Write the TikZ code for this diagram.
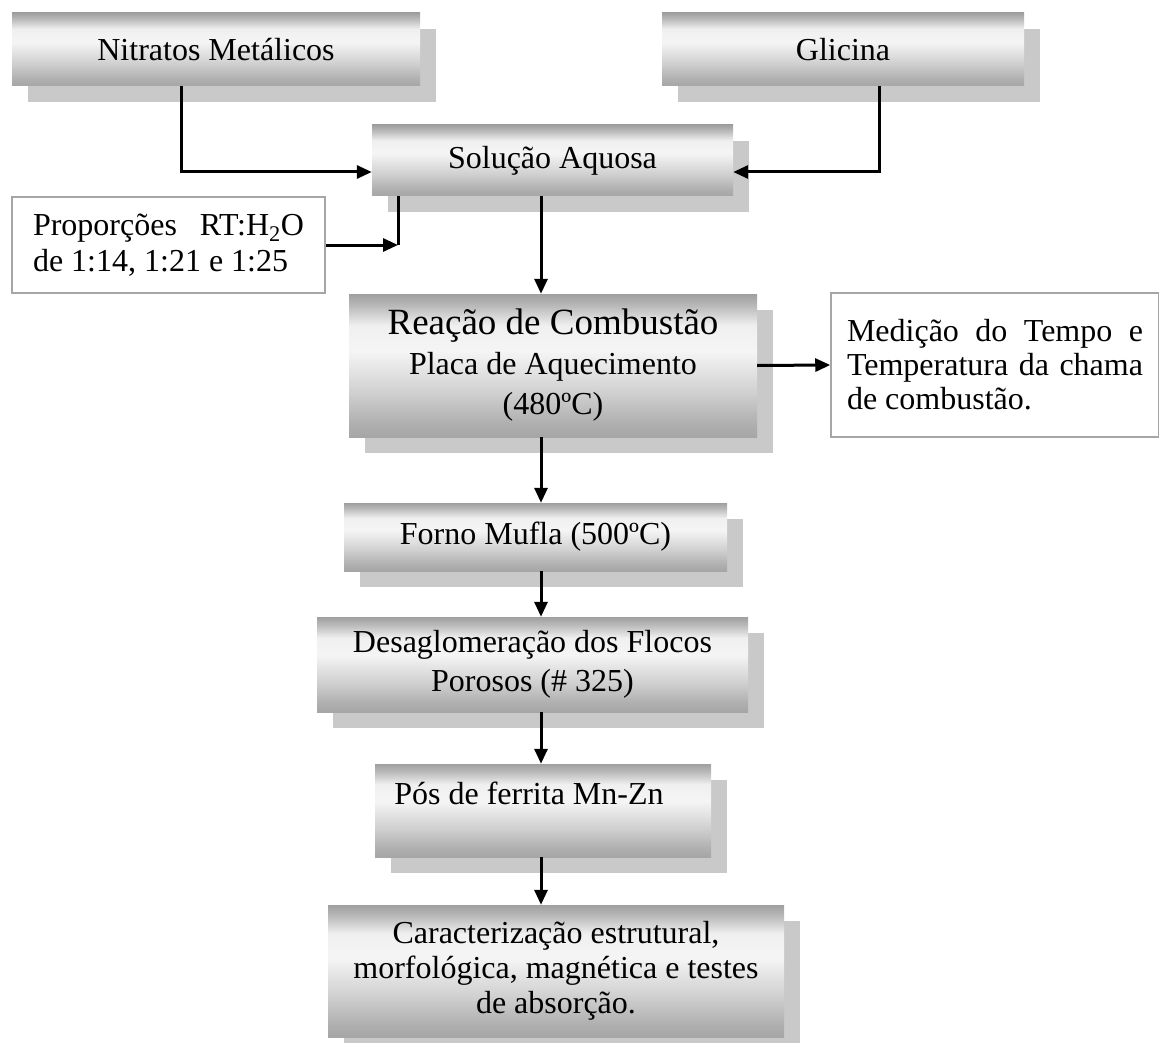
\documentclass[tikz,border=0pt]{standalone}
\usepackage{fontspec}
\setmainfont{Liberation Serif}
\usetikzlibrary{arrows.meta,shadows}
\pgfdeclareverticalshading{boxshade}{100bp}{color(0bp)=(gray!70); color(25bp)=(gray!70); color(30bp)=(gray!62); color(40bp)=(gray!38); color(55bp)=(gray!8); color(64bp)=(gray!12); color(71bp)=(gray!55); color(75bp)=(gray!75); color(100bp)=(gray!75)}
\begin{document}
\begin{tikzpicture}[x=1pt,y=-1pt,
  every node/.style={font=\fontsize{32}{38}\selectfont, inner sep=0pt},
  procbox/.style={shade, shading=boxshade, drop shadow={shadow xshift=16pt,shadow yshift=-16pt,fill=gray!42,opacity=1}, align=center},
  notebox/.style={draw=gray!70, line width=1.5pt, fill=white, align=left},
  arr/.style={line width=3pt, -{Triangle[length=15pt,width=13pt]}},
  conn/.style={line width=3pt}]
\useasboundingbox (0,0) rectangle (1159,1043);

\node[procbox, minimum width=408pt, minimum height=73pt] (nit) at (216,49.5) {Nitratos Metálicos};
\node[procbox, minimum width=362pt, minimum height=73pt] (gli) at (843,49.5) {Glicina};
\node[procbox, minimum width=361pt, minimum height=71pt] (sol) at (552.5,160.5) {Solução Aquosa};
\node[notebox, minimum width=313pt, minimum height=96pt, font=\fontsize{32}{36}\selectfont] (prop) at (168.5,245)
  {\hbox to 271pt{Proporções\hfill RT:H\textsubscript{2}O}\\ \hbox to 271pt{de 1:14, 1:21 e 1:25\hfill}};
\node[procbox, minimum width=408pt, minimum height=143pt, font=\fontsize{32}{40}\selectfont] (rea) at (553,365.5)
  {{\fontsize{37}{40}\selectfont Reação de Combustão}\\ Placa de Aquecimento\\ (480ºC)};
\node[notebox, minimum width=328pt, minimum height=144pt, font=\fontsize{32}{34}\selectfont] (med) at (995,365)
  {\hbox to 296pt{Medição\hfill do\hfill Tempo\hfill e}\\ \hbox to 296pt{Temperatura\hfill da\hfill chama}\\ \hbox to 296pt{de combustão.\hfill}};
\node[procbox, minimum width=383pt, minimum height=68pt] (forno) at (535.5,537) {Forno Mufla (500ºC)};
\node[procbox, minimum width=431pt, minimum height=95pt, font=\fontsize{32}{39}\selectfont] (des) at (532.5,664.5)
  {Desaglomeração dos Flocos\\ Porosos (\# 325)};
\node[procbox, minimum width=336pt, minimum height=93pt] (pos) at (543,810.5) {};
\node (postxt) at (529,793) {Pós de ferrita Mn-Zn};
\node[procbox, minimum width=456pt, minimum height=132pt, font=\fontsize{32}{35}\selectfont] (car) at (556,971)
  {Caracterização estrutural,\\ morfológica, magnética e testes\\ de absorção.};

\coordinate (j1) at (181,172);
\coordinate (j2) at (879,172);
\coordinate (j3) at (398,245);
\coordinate (ax) at (541,0);

\draw[arr] (nit.south -| j1) -- (j1) -- (j1 -| sol.west);
\draw[arr] (gli.south -| j2) -- (j2) -- (j2 -| sol.east);
\draw[conn] (sol.south -| j3) -- (j3);
\draw[arr] (prop.east) -- (j3);
\draw[arr] (sol.south -| ax) -- (rea.north -| ax);
\draw[arr] (rea.south -| ax) -- (forno.north -| ax);
\draw[arr] (forno.south -| ax) -- (des.north -| ax);
\draw[arr] (des.south -| ax) -- (pos.north -| ax);
\draw[arr] (pos.south -| ax) -- (car.north -| ax);
\draw[arr] (rea.east) -- (med.west);
\end{tikzpicture}
\end{document}
